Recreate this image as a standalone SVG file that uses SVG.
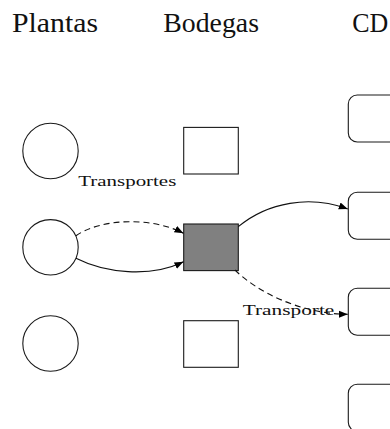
<svg xmlns="http://www.w3.org/2000/svg" width="390" height="429" viewBox="0 0 390 429">
  <style>
    .title { font-family: "Liberation Serif", "DejaVu Serif", serif; font-size: 27px; fill: #111; }
    .lbl { font-family: "Liberation Serif", "DejaVu Serif", serif; font-size: 14px; fill: #111; }
    .node { fill: #fff; stroke: #1a1a1a; stroke-width: 1.1; }
    .edge { fill: none; stroke: #111; stroke-width: 1.1; }
    .dash { stroke-dasharray: 6 4; }
  </style>
  <defs>
    <marker id="arr" markerUnits="userSpaceOnUse" markerWidth="10" markerHeight="8" refX="9" refY="4" orient="auto">
      <path d="M0,0.5 L9,4 L0,7.5 z" fill="#000"/>
    </marker>
  </defs>
  <g id="titles">
    <text class="title" x="12" y="31.7" textLength="86" lengthAdjust="spacingAndGlyphs">Plantas</text>
    <text class="title" x="163.3" y="31.7" textLength="95.7" lengthAdjust="spacingAndGlyphs">Bodegas</text>
    <text class="title" x="352.3" y="31.7" textLength="36" lengthAdjust="spacingAndGlyphs">CD</text>
  </g>
  <g id="plant1"><circle class="node" cx="50.5" cy="151" r="27.7"/></g>
  <g id="plant2"><circle class="node" cx="50.5" cy="247.3" r="27.7"/></g>
  <g id="plant3"><circle class="node" cx="50.5" cy="343.5" r="27.7"/></g>
  <g id="bodega1"><rect class="node" x="183.7" y="127.4" width="54.6" height="46.6"/></g>
  <g id="bodega2"><rect class="node" x="183.7" y="224" width="54.6" height="46.6" style="fill:#808080"/></g>
  <g id="bodega3"><rect class="node" x="183.7" y="320.7" width="54.6" height="46.6"/></g>
  <g id="cd1"><rect class="node" x="348.3" y="95" width="55" height="47" rx="9"/></g>
  <g id="cd2"><rect class="node" x="348.3" y="192.3" width="55" height="47" rx="9"/></g>
  <g id="cd3"><rect class="node" x="348.3" y="288.3" width="55" height="47" rx="9"/></g>
  <g id="cd4"><rect class="node" x="348.3" y="384.3" width="55" height="47" rx="9"/></g>
  <g id="connectors">
    <path class="edge dash" d="M76,235.7 C100,219 150,216 183.5,233.3" marker-end="url(#arr)"/>
    <path class="edge" d="M76,258.3 C105,273 150,278 183.5,261.7" marker-end="url(#arr)"/>
    <path class="edge" d="M238.3,226.7 C268,202 310,195 347.8,209" marker-end="url(#arr)"/>
    <path class="edge dash" d="M235,270 C256,291 300,314 347.8,314.3" marker-end="url(#arr)"/>
  </g>
  <g id="labels">
    <text class="lbl" x="78.3" y="186" textLength="98" lengthAdjust="spacingAndGlyphs">Transportes</text>
    <text class="lbl" x="242.7" y="315" textLength="91.6" lengthAdjust="spacingAndGlyphs">Transporte</text>
  </g>
</svg>
